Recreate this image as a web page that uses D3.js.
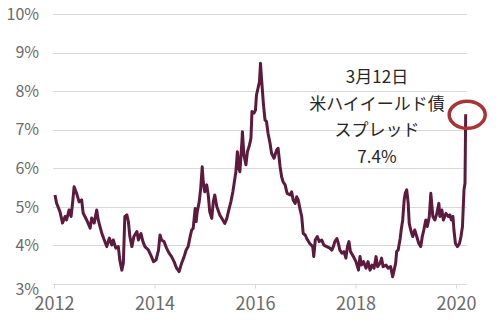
<!DOCTYPE html>
<html lang="ja">
<head>
<meta charset="utf-8">
<script src="https://cdn.jsdelivr.net/npm/d3@7"></script>
<style>
  html, body { margin: 0; padding: 0; background: #fff; }
  svg { display: block; font-family: "Noto Sans CJK JP", "Noto Sans", sans-serif; }
</style>
</head>
<body>
<svg id="chart" width="500" height="332"></svg>
<script>
// US high-yield bond spread, 2012 to 12 March 2020 (percent)
const years = [
  2012.02, 2012.05, 2012.12, 2012.17, 2012.22, 2012.25, 2012.30, 2012.34, 2012.37, 2012.40,
  2012.45, 2012.50, 2012.55, 2012.58, 2012.65, 2012.72, 2012.75, 2012.80, 2012.85, 2012.88,
  2012.95, 2013.00, 2013.05, 2013.10, 2013.15, 2013.18, 2013.23, 2013.28, 2013.31, 2013.35,
  2013.38, 2013.41, 2013.45, 2013.48, 2013.51, 2013.55, 2013.59, 2013.65, 2013.68, 2013.73,
  2013.77, 2013.81, 2013.88, 2013.94, 2013.98, 2014.03, 2014.08, 2014.11, 2014.14, 2014.19,
  2014.24, 2014.29, 2014.34, 2014.39, 2014.44, 2014.49, 2014.54, 2014.59, 2014.63, 2014.67,
  2014.71, 2014.74, 2014.77, 2014.81, 2014.83, 2014.85, 2014.89, 2014.92, 2014.95, 2014.97,
  2015.00, 2015.04, 2015.07, 2015.10, 2015.14, 2015.17, 2015.20, 2015.24, 2015.30, 2015.36,
  2015.40, 2015.44, 2015.47, 2015.52, 2015.56, 2015.59, 2015.62, 2015.65, 2015.68, 2015.70,
  2015.74, 2015.75, 2015.78, 2015.82, 2015.85, 2015.89, 2015.92, 2015.94, 2015.98, 2016.01,
  2016.03, 2016.06, 2016.09, 2016.11, 2016.13, 2016.17, 2016.20, 2016.23, 2016.26, 2016.30,
  2016.33, 2016.38, 2016.43, 2016.46, 2016.50, 2016.53, 2016.56, 2016.60, 2016.64, 2016.70,
  2016.73, 2016.76, 2016.80, 2016.83, 2016.86, 2016.90, 2016.93, 2016.96, 2017.00, 2017.03,
  2017.09, 2017.15, 2017.17, 2017.20, 2017.24, 2017.28, 2017.33, 2017.37, 2017.43, 2017.49,
  2017.53, 2017.56, 2017.59, 2017.63, 2017.66, 2017.69, 2017.73, 2017.77, 2017.81, 2017.84,
  2017.87, 2017.90, 2017.96, 2018.01, 2018.06, 2018.09, 2018.12, 2018.16, 2018.21, 2018.25,
  2018.29, 2018.33, 2018.37, 2018.41, 2018.44, 2018.49, 2018.52, 2018.55, 2018.61, 2018.65,
  2018.70, 2018.74, 2018.77, 2018.80, 2018.82, 2018.85, 2018.89, 2018.91, 2018.94, 2018.97,
  2018.99, 2019.02, 2019.05, 2019.07, 2019.10, 2019.14, 2019.18, 2019.22, 2019.26, 2019.30,
  2019.33, 2019.36, 2019.40, 2019.43, 2019.47, 2019.50, 2019.54, 2019.58, 2019.62, 2019.66,
  2019.68, 2019.72, 2019.75, 2019.80, 2019.85, 2019.88, 2019.91, 2019.94, 2019.96, 2019.99,
  2020.03, 2020.07, 2020.10, 2020.13, 2020.16, 2020.18, 2020.194
];
const spreads = [
  5.31, 5.10, 4.87, 4.58, 4.75, 4.66, 4.92, 4.75, 5.10, 5.52,
  5.35, 5.13, 5.18, 4.84, 4.66, 4.45, 4.71, 4.58, 4.92, 4.66,
  4.32, 4.14, 3.97, 4.19, 4.01, 4.14, 3.93, 3.97, 3.62, 3.36,
  3.54, 4.75, 4.79, 4.62, 4.23, 3.97, 4.23, 4.36, 4.14, 4.31,
  4.10, 3.97, 3.88, 3.71, 3.58, 3.62, 3.88, 4.27, 4.14, 4.10,
  3.93, 3.80, 3.71, 3.58, 3.41, 3.32, 3.54, 3.71, 3.88, 3.97,
  4.23, 4.40, 4.44, 4.96, 4.62, 4.87, 5.13, 5.48, 6.04, 5.65,
  5.39, 5.57, 5.31, 4.87, 4.70, 5.13, 5.31, 5.01, 4.79, 4.66,
  4.57, 4.70, 4.87, 5.13, 5.39, 5.65, 5.91, 6.43, 6.00, 5.91,
  6.69, 6.95, 6.34, 6.09, 6.43, 6.60, 6.78, 7.47, 7.43, 7.51,
  7.90, 8.07, 8.25, 8.72, 8.33, 7.64, 7.25, 7.21, 6.91, 6.65,
  6.39, 6.26, 6.47, 6.52, 6.04, 5.78, 5.65, 5.57, 5.35, 5.31,
  5.39, 5.18, 5.09, 5.26, 5.18, 4.92, 4.75, 4.31, 4.27, 4.18,
  4.05, 3.97, 3.71, 4.14, 4.23, 4.10, 4.14, 4.01, 3.97, 3.93,
  3.88, 3.97, 4.10, 4.18, 4.05, 3.88, 3.80, 3.84, 3.67, 3.97,
  4.10, 3.84, 3.71, 3.58, 3.36, 3.71, 3.49, 3.58, 3.41, 3.58,
  3.36, 3.49, 3.41, 3.71, 3.45, 3.54, 3.67, 3.45, 3.49, 3.41,
  3.45, 3.19, 3.36, 3.54, 3.84, 3.88, 4.18, 4.40, 4.66, 5.18,
  5.35, 5.44, 5.09, 4.57, 4.40, 4.23, 4.40, 4.23, 4.05, 3.97,
  4.23, 4.40, 4.66, 4.49, 4.75, 5.35, 4.75, 4.66, 4.83, 5.09,
  4.75, 4.92, 4.66, 4.83, 4.75, 4.79, 4.66, 4.75, 4.40, 4.05,
  3.97, 4.05, 4.23, 4.49, 5.44, 5.61, 7.40
];

const yTicks = [3, 4, 5, 6, 7, 8, 9, 10];
const xTicks = [2012, 2014, 2016, 2018, 2020];
const calloutLines = ["3月12日", "米ハイイールド債", "スプレッド", "7.4%"];

const svg = d3.select("#chart");
const plot = { left: 53, right: 467, top: 14, bottom: 284 };

const x = d3.scaleLinear().domain([2012, 2020.22]).range([plot.left + 1, plot.right]);
const y = d3.scaleLinear().domain([3, 10]).range([plot.bottom, plot.top]);

// Horizontal gridlines
svg.append("g")
  .selectAll("line")
  .data(yTicks)
  .join("line")
  .attr("x1", plot.left)
  .attr("x2", plot.right)
  .attr("y1", d => Math.round(y(d)) + 0.5)
  .attr("y2", d => Math.round(y(d)) + 0.5)
  .attr("stroke", "#d9d9d9")
  .attr("stroke-width", 1);

// Y axis labels
svg.append("g")
  .selectAll("text")
  .data(yTicks)
  .join("text")
  .attr("x", 39)
  .attr("y", d => y(d) + (d === 3 ? 5 : 0))
  .attr("dy", "0.36em")
  .attr("text-anchor", "end")
  .attr("font-size", 16)
  .attr("fill", "#6b6b6b")
  .text(d => d + "%");

// X axis with tick marks
const xAxis = d3.axisBottom(x)
  .tickValues(xTicks)
  .tickFormat(d3.format("d"))
  .tickSize(4)
  .tickPadding(9);
const gx = svg.append("g")
  .attr("transform", `translate(0,${Math.round(y(3)) + 0.5})`)
  .call(xAxis);
gx.select(".domain").attr("stroke", "#d9d9d9").attr("d", `M${plot.left},0H${plot.right}`);
gx.selectAll(".tick line").attr("stroke", "#d9d9d9");
gx.selectAll(".tick text")
  .attr("font-family", "\"Noto Sans CJK JP\", sans-serif")
  .attr("font-size", 18)
  .attr("fill", "#6b6b6b");

// Spread line
const series = years.map((t, i) => ({ t, v: spreads[i] }));
svg.append("path")
  .datum(series)
  .attr("fill", "none")
  .attr("stroke", "#5c1a3e")
  .attr("stroke-width", 3)
  .attr("stroke-linejoin", "round")
  .attr("d", d3.line().x(d => x(d.t)).y(d => y(d.v)));

// Callout around the latest value
const last = series[series.length - 1];
svg.append("ellipse")
  .attr("cx", x(last.t) + 1.5)
  .attr("cy", y(last.v) + 0.5)
  .attr("rx", 18)
  .attr("ry", 13.5)
  .attr("fill", "none")
  .attr("stroke", "#a93434")
  .attr("stroke-width", 3.5);

svg.append("g")
  .selectAll("text")
  .data(calloutLines)
  .join("text")
  .attr("x", 377)
  .attr("y", (d, i) => 83 + i * 26.5)
  .attr("text-anchor", "middle")
  .attr("font-size", 17)
  .attr("fill", "#262626")
  .text(d => d);
</script>
</body>
</html>
